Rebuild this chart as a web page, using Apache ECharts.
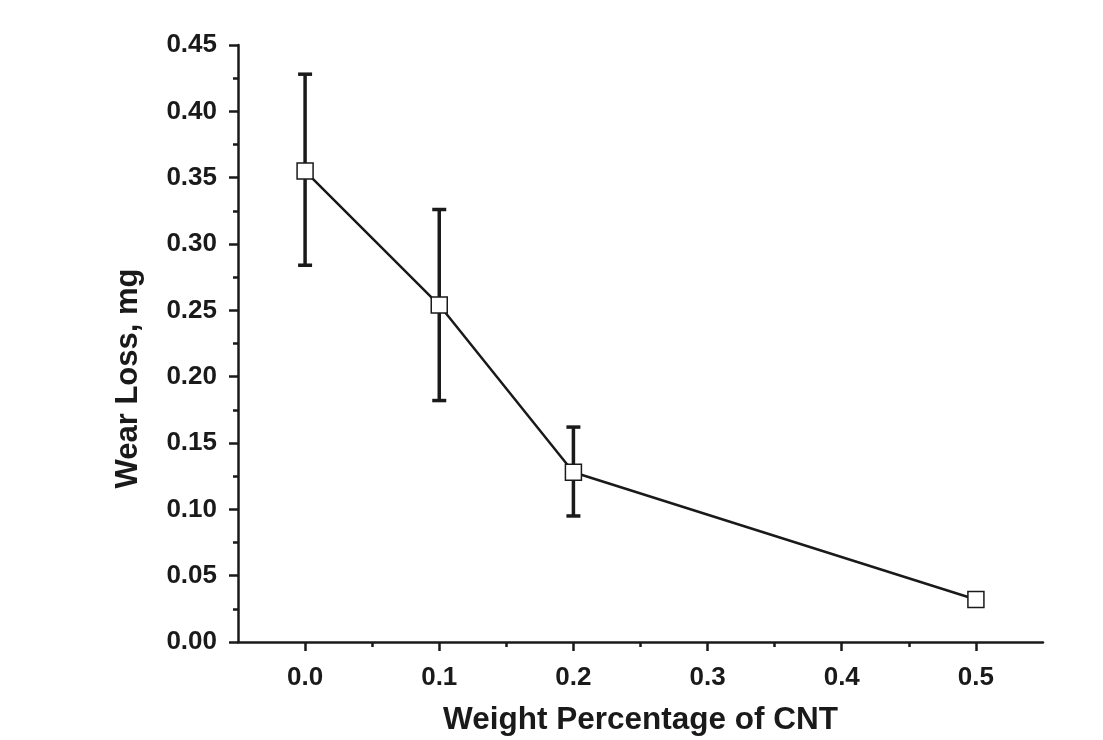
<!DOCTYPE html>
<html>
<head>
    <meta charset="utf-8">
    <script type="text/javascript" src="https://cdn.jsdelivr.net/npm/echarts@6/dist/echarts.min.js"></script>
    <style type="text/css">
        *{
            margin: 0;
            padding: 0;
        }
        #main{
            width: 1103px;
            height: 740px;
            background: #fff;
        }
    </style>
</head>
<body>
<div id="main"></div>
<script type="text/javascript">
    // wt% of CNT, mean wear loss (mg), error bar low/high
    var cnt = [0.0, 0.1, 0.2, 0.5];
    var wearLoss = [0.355, 0.254, 0.128, 0.032];
    var errLow = [0.284, 0.182, 0.095, 0.028];
    var errHigh = [0.428, 0.326, 0.162, 0.036];
    var xTicks = [0.0, 0.1, 0.2, 0.3, 0.4, 0.5];

    var lineData = cnt.map(function (x, i) { return [x, wearLoss[i]]; });
    var errData = cnt.map(function (x, i) { return [x, errLow[i], errHigh[i]]; });

    var ink = '#1a1a1a';
    var font = '"Liberation Sans", Arial, sans-serif';

    var myChart = echarts.init(document.getElementById('main'));
    var option = {
        animation: false,
        grid: {
            left: 238,
            right: 60,
            top: 45,
            bottom: 98,
            outerBoundsMode: 'none'
        },
        xAxis: {
            type: 'value',
            min: -0.05,
            max: 0.55,
            splitNumber: 6,
            name: 'Weight Percentage of CNT',
            nameLocation: 'middle',
            nameGap: 62,
            nameTextStyle: {
                color: ink,
                fontFamily: font,
                fontWeight: 'bold',
                fontSize: 31.5
            },
            axisLine: { show: true, onZero: false, lineStyle: { color: ink, width: 2.5 } },
            axisTick: { show: true, length: 9, customValues: xTicks, lineStyle: { color: ink, width: 2.5 } },
            minorTick: { show: true, splitNumber: 2, length: 5, lineStyle: { color: ink, width: 2.5 } },
            splitLine: { show: false },
            axisLabel: {
                color: ink,
                fontFamily: font,
                fontWeight: 'bold',
                fontSize: 26,
                margin: 23,
                customValues: xTicks,
                formatter: function (v) { return v.toFixed(1); }
            }
        },
        yAxis: {
            type: 'value',
            min: 0,
            max: 0.45,
            interval: 0.05,
            name: 'Wear Loss, mg',
            nameLocation: 'middle',
            nameGap: 94,
            nameTextStyle: {
                color: ink,
                fontFamily: font,
                fontWeight: 'bold',
                fontSize: 31,
                padding: [0, 70, 0, 0]
            },
            axisLine: { show: true, onZero: false, lineStyle: { color: ink, width: 2.5 } },
            axisTick: { show: true, length: 9, lineStyle: { color: ink, width: 2.5 } },
            minorTick: { show: true, splitNumber: 2, length: 5, lineStyle: { color: ink, width: 2.5 } },
            splitLine: { show: false },
            axisLabel: {
                color: ink,
                fontFamily: font,
                fontWeight: 'bold',
                fontSize: 26,
                margin: 21,
                formatter: function (v) { return v.toFixed(2); }
            }
        },
        series: [
            {
                type: 'custom',
                z: 1,
                data: errData,
                renderItem: function (params, api) {
                    var x = api.value(0);
                    var lo = api.coord([x, api.value(1)]);
                    var hi = api.coord([x, api.value(2)]);
                    var cap = 7;
                    var style = { stroke: ink, lineWidth: 3.5 };
                    return {
                        type: 'group',
                        children: [
                            { type: 'line', shape: { x1: hi[0], y1: hi[1], x2: lo[0], y2: lo[1] }, style: style },
                            { type: 'line', shape: { x1: hi[0] - cap, y1: hi[1], x2: hi[0] + cap, y2: hi[1] }, style: style },
                            { type: 'line', shape: { x1: lo[0] - cap, y1: lo[1], x2: lo[0] + cap, y2: lo[1] }, style: style }
                        ]
                    };
                }
            },
            {
                type: 'line',
                z: 3,
                data: lineData,
                symbol: 'rect',
                symbolSize: 16,
                showAllSymbol: true,
                lineStyle: { color: ink, width: 2.5 },
                itemStyle: { color: '#fff', borderColor: ink, borderWidth: 1.5 }
            }
        ]
    };
    myChart.setOption(option);
</script>
</body>
</html>
